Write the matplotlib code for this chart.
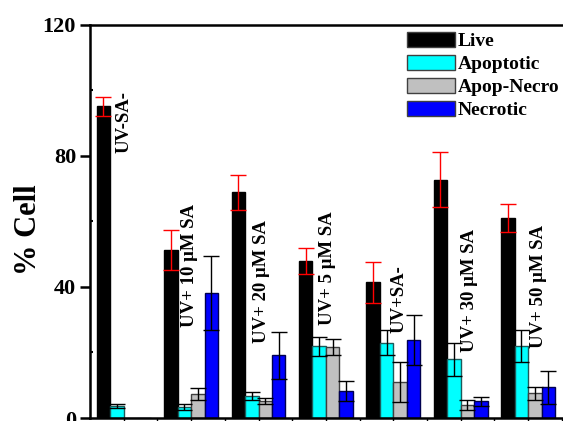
import numpy as np
import matplotlib
matplotlib.use("Agg")
import matplotlib.pyplot as plt

plt.rcParams['font.family'] = ['Liberation Serif', 'DejaVu Serif']
plt.rcParams['font.weight'] = 'bold'

# data (% of cells)
groups = ["UV-SA-", "UV+ 10 \u03bcM SA", "UV+ 20 \u03bcM SA", "UV+ 5 \u03bcM SA",
          "UV+SA-", "UV+ 30 \u03bcM SA", "UV+ 50 \u03bcM SA"]
series = ["Live", "Apoptotic", "Apop-Necro", "Necrotic"]

live = [95.0, 51.2, 68.8, 47.9, 41.4, 72.7, 61.0]
live_err = [2.8, 6.0, 5.4, 3.9, 6.2, 8.3, 4.2]
apoptotic = [3.7, 3.3, 6.7, 21.9, 23.0, 17.9, 21.9]
apoptotic_err = [0.7, 1.0, 1.3, 2.9, 3.7, 5.0, 4.8]
apop_necro = [0.0, 7.3, 5.2, 21.6, 10.9, 4.0, 7.5]
apop_necro_err = [0.0, 1.7, 0.9, 2.5, 6.1, 1.5, 2.0]
necrotic = [0.0, 38.2, 19.1, 8.2, 23.9, 5.1, 9.4]
necrotic_err = [0.0, 11.3, 7.1, 3.0, 7.6, 1.3, 5.0]

# where the rotated group labels start (bottom of text, in % units)
label_y = [80.7, 27.7, 22.8, 28.3, 25.9, 20.1, 21.3]
label_dx = [0.0, -0.03, 0.04, 0.03, 0.08, 0.13, 0.16]

values = [live, apoptotic, apop_necro, necrotic]
errors = [live_err, apoptotic_err, apop_necro_err, necrotic_err]
colors = ['#000000', '#00ffff', '#c0c0c0', '#0000ff']
edges = ['#000000', '#1e5a5a', '#404040', '#000050']
ecolors = ['#ff0000', '#000000', '#000000', '#000000']

fig = plt.figure(figsize=(5.63, 4.21), dpi=100)
ax = fig.add_axes([90 / 563, 3 / 421, 471.8 / 563, 393.5 / 421])

x = np.arange(len(groups))
w = 0.2
for k in range(4):
    pos = x + (k - 1.5) * w
    ax.bar(pos, values[k], w, color=colors[k], edgecolor=edges[k],
           linewidth=1.0, label=series[k], zorder=2)
    err = np.array(errors[k])
    m = err > 0
    ax.errorbar(pos[m], np.array(values[k])[m], yerr=err[m], fmt='none',
                ecolor=ecolors[k], elinewidth=1.0, capsize=5.5,
                capthick=1.0, zorder=3)

for i, g in enumerate(groups):
    ax.text(x[i] + label_dx[i], label_y[i], g, rotation=90, ha='center',
            va='bottom', fontsize=13.5, fontweight='bold')

ax.set_xlim(-0.5, 6.5)
ax.set_ylim(0, 120)
ax.set_yticks([0, 40, 80, 120])
ax.set_yticks([20, 60, 100], minor=True)
ax.tick_params(axis='y', which='major', direction='out', length=7, width=1.8,
               pad=3, labelsize=16)
ax.tick_params(axis='y', which='minor', direction='in', length=2, width=1.5)
ax.set_xticks(np.arange(0, 6.51, 0.5))
ax.set_xticklabels([])
ax.tick_params(axis='x', direction='out', length=3, width=1)
for lab in ax.get_yticklabels():
    lab.set_fontweight('bold')

for s in ['left', 'top', 'bottom']:
    ax.spines[s].set_linewidth(1.8)
ax.spines['right'].set_visible(False)

ax.set_ylabel('% Cell', fontsize=22, fontweight='bold')
ax.yaxis.set_label_coords(-0.1, 0.478)

leg = ax.legend(loc='upper left', bbox_to_anchor=(407 / 563, 1 - 32 / 421),
                bbox_transform=fig.transFigure, frameon=False, fontsize=14,
                handlelength=2.45, handleheight=0.8, handletextpad=0.15,
                labelspacing=0.25, borderpad=0, borderaxespad=0)
for t in leg.get_texts():
    t.set_fontweight('bold')
for h in leg.legend_handles:
    h.set_edgecolor('#404040')

fig.savefig('out.png', dpi=100)
